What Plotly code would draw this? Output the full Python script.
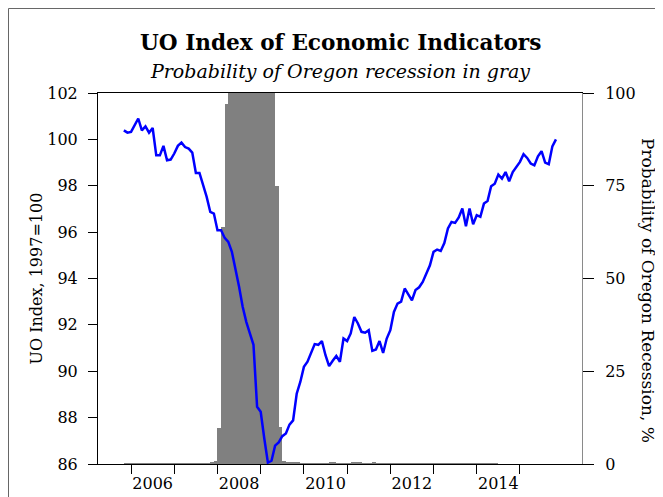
import plotly.graph_objects as go

# ---------------- data ----------------
index_start = (2005, 11)  # first month of the UO index series
uo_index = [
    100.39, 100.29,                                                   # 2005 Nov-Dec
    100.32, 100.61, 100.90, 100.39, 100.56, 100.29, 100.49, 99.31, 99.31, 99.72, 99.10, 99.13,  # 2006
    99.39, 99.72, 99.86, 99.67, 99.60, 99.43, 98.55, 98.55, 98.02, 97.52, 96.87, 96.80,        # 2007
    96.08, 96.08, 95.75, 95.58, 95.15, 94.43, 93.64, 92.78, 92.13, 91.63, 91.14, 88.47,        # 2008
    88.25, 87.10, 86.06, 86.14, 86.79, 86.93, 87.20, 87.32, 87.70, 87.88, 89.03, 89.54,        # 2009
    90.19, 90.41, 90.80, 91.17, 91.14, 91.30, 90.69, 90.22, 90.45, 90.66, 90.41, 91.41,        # 2010
    91.30, 91.63, 92.34, 92.06, 91.70, 91.66, 91.77, 90.88, 90.94, 91.30, 90.79, 91.41,        # 2011
    91.77, 92.56, 92.92, 93.00, 93.57, 93.30, 93.06, 93.50, 93.62, 93.85, 94.21, 94.57,        # 2012
    95.15, 95.25, 95.19, 95.53, 96.16, 96.44, 96.40, 96.63, 97.02, 96.25, 97.02, 96.34,        # 2013
    96.73, 96.66, 97.23, 97.34, 97.98, 98.09, 98.48, 98.31, 98.59, 98.19, 98.59, 98.81,        # 2014
    99.03, 99.36, 99.20, 98.96, 98.88, 99.27, 99.49, 99.00, 98.93, 99.70, 100.00,             # 2015 Jan-Nov
]

prob_start = (2005, 11)  # first month of the recession probability series
recession_prob = [
    0.2, 0.2,                                                          # 2005 Nov-Dec
    0.2, 0.2, 0.2, 0.2, 0.2, 0.2, 0.2, 0.2, 0.2, 0.2, 0.2, 0.2,        # 2006
    0.2, 0.2, 0.2, 0.2, 0.2, 0.2, 0.2, 0.2, 0.2, 0.2, 0.3, 0.8,        # 2007
    9.8, 63.9, 97.0, 100, 100, 100, 100, 100, 100, 100, 100, 100,      # 2008
    100, 100, 100, 100, 74.9, 10.1, 0.8, 0.5, 0.3, 0.3, 0.3, 0.2,      # 2009
    0.2, 0.2, 0.2, 0.2, 0.2, 0.2, 0.2, 0.3, 0.3, 0.2, 0.2, 0.2,        # 2010
    0.2, 0.3, 0.5, 0.3, 0.2, 0.2, 0.2, 0.3, 0.2, 0.2, 0.2, 0.2,        # 2011
    0.2, 0.2, 0.2, 0.2, 0.2, 0.2, 0.2, 0.2, 0.2, 0.2, 0.2, 0.2,        # 2012
    0.2, 0.2, 0.2, 0.2, 0.2, 0.2, 0.2, 0.2, 0.2, 0.2, 0.2, 0.2,        # 2013
    0.2, 0.2, 0.2, 0.2, 0.2, 0.2,                                      # 2014 Jan-Jun
]

year_ticks = list(range(2006, 2016))
year_labels = ["2006", "2008", "2010", "2012", "2014"]
left_ticks = [86, 88, 90, 92, 94, 96, 98, 100, 102]
right_ticks = [0, 25, 50, 75, 100]

title_text = "UO Index of Economic Indicators"
subtitle_text = "Probability of Oregon recession in gray"
left_title = "UO Index, 1997=100"
right_title = "Probability of Oregon Recession, %"


def month_times(start, n):
    y0, m0 = start
    return [y0 + (m0 - 1 + i) / 12.0 for i in range(n)]


t_index = month_times(index_start, len(uo_index))
t_prob = [t + 1 / 24.0 for t in month_times(prob_start, len(recession_prob))]

FONT = "DejaVu Serif"

fig = go.Figure()
fig.add_trace(go.Bar(
    x=t_prob, y=recession_prob, width=1 / 12.0,
    marker=dict(color="#808080", line=dict(width=0)),
    yaxis="y", xaxis="x", showlegend=False, hoverinfo="skip",
))
fig.add_trace(go.Scatter(
    x=t_index, y=uo_index, mode="lines",
    line=dict(color="#0000FF", width=2.5),
    yaxis="y2", xaxis="x", showlegend=False,
))

fig.update_layout(
    width=655, height=489,
    margin=dict(l=90, r=81, t=85, b=33, autoexpand=False),
    paper_bgcolor="white", plot_bgcolor="white",
    font=dict(family=FONT, size=16, color="black"),
    bargap=0,
    xaxis=dict(
        range=[2005.235, 2016.436],
        tickmode="array",
        tickvals=[int(s) + 0.5 for s in year_labels],
        ticktext=year_labels,
        ticks="",
        ticklabelstandoff=5,
        automargin=False,
        showline=True, linecolor="black", linewidth=1, mirror=True,
        showgrid=False, zeroline=False,
        layer="below traces",
        minor=dict(tickmode="array", tickvals=year_ticks, ticks="outside",
                   ticklen=9, tickcolor="black", tickwidth=1, showgrid=False),
    ),
    yaxis=dict(
        range=[0, 100], side="right", anchor="x",
        tickmode="array", tickvals=right_ticks,
        ticks="outside", ticklen=11, tickcolor="black",
        ticklabelstandoff=8,
        automargin=False,
        showline=True, linecolor="#8a8a8a", linewidth=1,
        showgrid=False, zeroline=False,
        layer="below traces",
    ),
    yaxis2=dict(
        range=[86, 102], side="left", overlaying="y", anchor="x",
        tickmode="array", tickvals=left_ticks,
        ticks="outside", ticklen=9, tickcolor="black",
        ticklabelstandoff=7,
        automargin=False,
        showline=True, linecolor="black", linewidth=1,
        showgrid=False, zeroline=False,
    ),
    annotations=[
        dict(text="<b>" + title_text + "</b>", xref="paper", yref="paper",
             x=0.5, y=1.1364, xanchor="center", yanchor="middle",
             showarrow=False, font=dict(family=FONT, size=21.6, color="black")),
        dict(text="<i>" + subtitle_text + "</i>", xref="paper", yref="paper",
             x=0.5, y=1.058, xanchor="center", yanchor="middle",
             showarrow=False, font=dict(family=FONT, size=19, color="black")),
        dict(text=left_title, xref="paper", yref="paper",
             x=-0.128, y=0.5, xanchor="center", yanchor="middle", textangle=-90,
             showarrow=False, font=dict(family=FONT, size=16, color="black")),
        dict(text=right_title, xref="paper", yref="paper",
             x=1.135, y=0.468, xanchor="center", yanchor="middle", textangle=90,
             showarrow=False, font=dict(family=FONT, size=17, color="black")),
    ],
    shapes=[
        dict(type="line", xref="paper", yref="paper",
             x0=-0.1849, x1=-0.1849, y0=1.2278, y1=-0.2,
             line=dict(color="#666666", width=1)),
        dict(type="line", xref="paper", yref="paper",
             x0=-0.1849, x1=1.2, y0=1.2278, y1=1.2278,
             line=dict(color="#666666", width=1)),
    ],
)

fig.write_html("out.html")
